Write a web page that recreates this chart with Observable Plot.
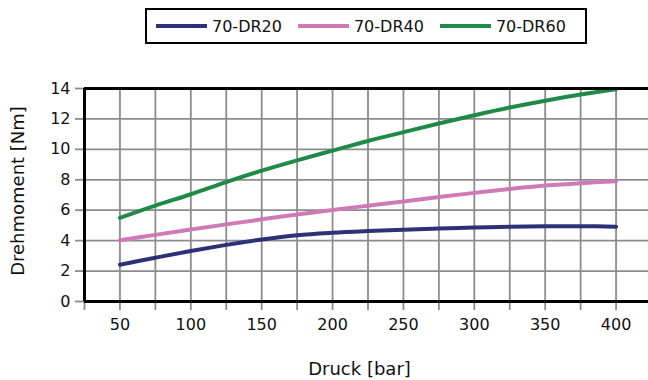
<!DOCTYPE html>
<html>
<head>
<meta charset="utf-8">
<script src="https://cdn.jsdelivr.net/npm/d3@7"></script>
<script src="https://cdn.jsdelivr.net/npm/@observablehq/plot@0.6"></script>
<style>
  html, body { margin: 0; padding: 0; background: #fff; }
  #wrap { position: relative; width: 648px; height: 380px; font-family: "DejaVu Sans", sans-serif; }
  #legend { position: absolute; left: 145px; top: 8px; width: 442px; height: 36px; box-sizing: border-box;
            border: 2.5px solid #000; display: flex; align-items: center; padding-left: 9px; }
  .item { display: flex; align-items: center; margin-right: 16px; font-size: 16px; color: #111; }
  .sw { width: 51px; height: 3.5px; margin-right: 5px; }
  #chart { position: absolute; left: 0; top: 50px; }
</style>
</head>
<body>
<div id="wrap">
  <div id="legend"></div>
  <div id="chart"></div>
</div>
<script>
const series = ["70-DR20", "70-DR40", "70-DR60"];
const colors = ["#2d3278", "#cf7ab6", "#1f8a47"];
const pressure = [50, 75, 100, 125, 150, 175, 200, 225, 250, 275, 300, 325, 350, 375, 400];
const dr20 = [2.42, 2.88, 3.32, 3.72, 4.08, 4.36, 4.52, 4.63, 4.72, 4.80, 4.86, 4.92, 4.95, 4.95, 4.92];
const dr40 = [4.02, 4.38, 4.73, 5.07, 5.40, 5.72, 6.02, 6.30, 6.58, 6.87, 7.14, 7.40, 7.62, 7.78, 7.90];
const dr60 = [5.50, 6.30, 7.05, 7.85, 8.60, 9.28, 9.92, 10.55, 11.13, 11.70, 12.24, 12.75, 13.20, 13.60, 13.95];
const xTicks = [25, 50, 75, 100, 125, 150, 175, 200, 225, 250, 275, 300, 325, 350, 375, 400, 425];
const xLabels = [50, 100, 150, 200, 250, 300, 350, 400];
const yTicks = [0, 2, 4, 6, 8, 10, 12, 14];
const xTitle = "Druck [bar]";
const yTitle = "Drehmoment [Nm]";

const values = [dr20, dr40, dr60];
const data = [];
series.forEach((s, i) => pressure.forEach((p, j) => data.push({series: s, p, t: values[i][j]})));

const legend = document.getElementById("legend");
series.forEach((s, i) => {
  const it = document.createElement("div");
  it.className = "item";
  it.innerHTML = `<div class="sw" style="background:${colors[i]}"></div><span>${s}</span>`;
  legend.appendChild(it);
});

const grid = "#8c8c90";
const chart = Plot.plot({
  width: 648,
  height: 330,
  marginLeft: 84,
  marginRight: 0,
  marginTop: 38,
  marginBottom: 79,
  style: {fontFamily: "DejaVu Sans, sans-serif", background: "#fff"},
  x: {domain: [25, 425], range: [84, 651]},
  y: {domain: [0, 14]},
  color: {domain: series, range: colors},
  marks: [
    Plot.gridX(xTicks.filter(d => d > 25), {stroke: grid, strokeOpacity: 1, strokeWidth: 1.8}),
    Plot.gridY(yTicks.filter(d => d > 0), {stroke: grid, strokeOpacity: 1, strokeWidth: 1.8}),
    Plot.axisX({ticks: xTicks, tickSize: 9, tickPadding: 8, stroke: grid, strokeOpacity: 1, strokeWidth: 1.8, fill: "#111",
      fontSize: 16, label: null, tickFormat: d => xLabels.includes(d) ? String(d) : ""}),
    Plot.axisY({ticks: yTicks, tickSize: 9, tickPadding: 5, stroke: grid, strokeOpacity: 1, strokeWidth: 1.8, fill: "#111",
      fontSize: 16, label: null, tickFormat: d => String(d)}),
    Plot.line(data, {x: "p", y: "t", z: "series", stroke: "series", strokeWidth: 4, curve: "catmull-rom"}),
    Plot.ruleY([0, 14], {stroke: "#000", strokeWidth: 3}),
    Plot.ruleX([25], {stroke: "#000", strokeWidth: 3}),
    Plot.text([xTitle], {frameAnchor: "bottom", dy: 73, dx: -7, fontSize: 18, fill: "#111"}),
    Plot.text([yTitle], {frameAnchor: "left", textAnchor: "middle", lineAnchor: "middle", rotate: -90, dx: -66, dy: -4, fontSize: 18, fill: "#111"})
  ]
});
document.getElementById("chart").appendChild(chart);
</script>
</body>
</html>
